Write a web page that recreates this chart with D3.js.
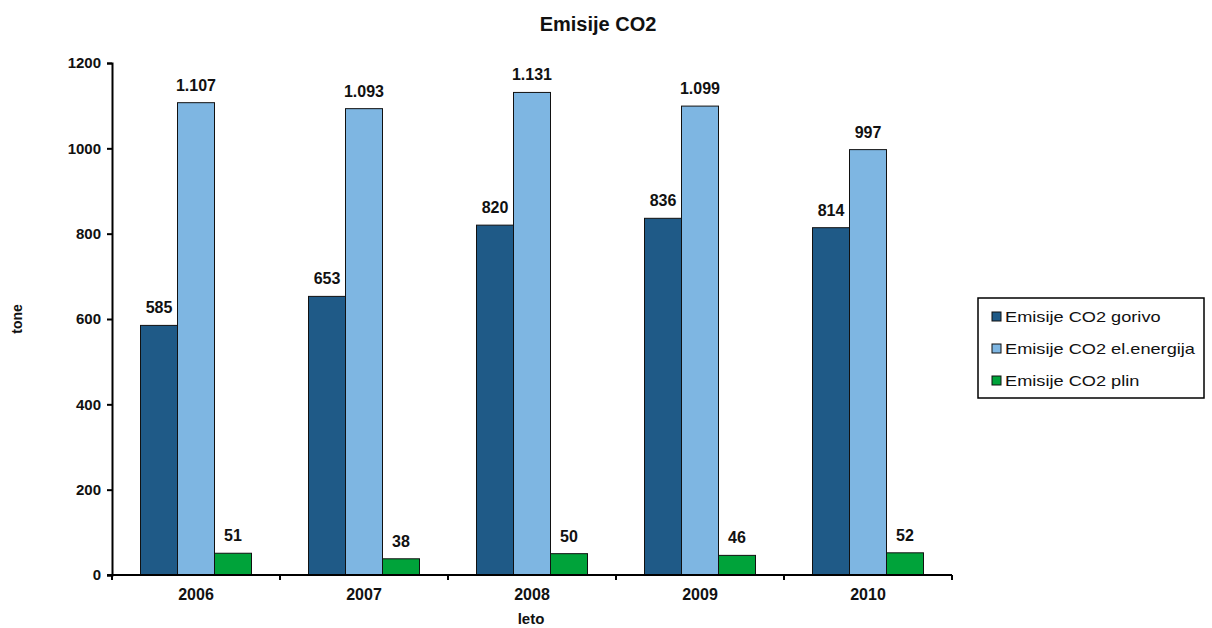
<!DOCTYPE html>
<html>
<head>
<meta charset="utf-8">
<script src="https://cdn.jsdelivr.net/npm/d3@7"></script>
<style>
  html, body { margin: 0; padding: 0; background: #fff; }
  svg { display: block; font-family: "Liberation Sans", Arial, sans-serif; }
</style>
</head>
<body>
<svg id="chart" width="1212" height="628"></svg>
<script>
// Annual CO2 emissions (tonnes) by source
const years = ["2006", "2007", "2008", "2009", "2010"];
const seriesNames = ["Emisije CO2 gorivo", "Emisije CO2 el.energija", "Emisije CO2 plin"];
const gorivo = [585, 653, 820, 836, 814];
const elEnergija = [1107, 1093, 1131, 1099, 997];
const plin = [51, 38, 50, 46, 52];
const yTicks = [0, 200, 400, 600, 800, 1000, 1200];
const colors = ["#1f5a87", "#7eb6e2", "#00a33a"];

const seriesValues = [gorivo, elEnergija, plin];

const svg = d3.select("#chart");
const left = 112, right = 952;
const y0 = 575, y1 = 63;

const x = d3.scaleBand().domain(years).range([left, right]).padding(0);
// three adjacent bars centred in each category
const xInner = d3.scaleBand().domain(d3.range(seriesNames.length))
  .range([28.5, x.bandwidth() - 28.5]).padding(0);
const y = d3.scaleLinear().domain([0, 1200]).range([y0, y1]);

const fmt = d3.formatLocale({ decimal: ",", thousands: ".", grouping: [3], currency: ["", "€"] }).format(",d");

// title
svg.append("text").attr("x", 598).attr("y", 31).attr("text-anchor", "middle")
  .attr("font-size", 20).attr("font-weight", "bold").attr("fill", "#111").text("Emisije CO2");

// bars
const groups = svg.append("g").selectAll("g").data(years).join("g")
  .attr("transform", d => `translate(${x(d)},0)`);

const cells = (d, i) => seriesValues.map((s, k) => ({ k, v: s[i] }));

groups.selectAll("rect").data(cells)
  .join("rect")
  .attr("x", d => xInner(d.k))
  .attr("y", d => y(d.v))
  .attr("width", xInner.bandwidth())
  .attr("height", d => y0 - y(d.v))
  .attr("fill", d => colors[d.k])
  .attr("stroke", "#111")
  .attr("stroke-width", 1);

groups.selectAll("text.val").data(cells)
  .join("text")
  .attr("class", "val")
  .attr("x", d => xInner(d.k) + xInner.bandwidth() / 2)
  .attr("y", d => y(d.v) - 12)
  .attr("text-anchor", "middle")
  .attr("font-size", 16).attr("font-weight", "bold").attr("fill", "#111")
  .text(d => fmt(d.v));

// y axis
const yAxis = d3.axisLeft(y).tickValues(yTicks).tickSize(5).tickPadding(6).tickFormat(d3.format("d"));
const gy = svg.append("g").attr("transform", `translate(${left},0)`).call(yAxis);
gy.select(".domain").attr("stroke", "#000").attr("stroke-width", 2);
gy.selectAll(".tick line").attr("stroke", "#000").attr("stroke-width", 2);
gy.selectAll(".tick text").attr("font-size", 15).attr("font-weight", "bold").attr("fill", "#111")
  .attr("font-family", "Liberation Sans, Arial, sans-serif");

// x axis with ticks on category boundaries
const gx = svg.append("g").attr("transform", `translate(0,${y0})`);
gx.append("line").attr("x1", left - 5).attr("x2", right)
  .attr("stroke", "#000").attr("stroke-width", 2);
const bounds = years.map(d => x(d)).concat([right]);
gx.selectAll("line.tk").data(bounds).join("line").attr("class", "tk")
  .attr("x1", d => d).attr("x2", d => d).attr("y1", 0).attr("y2", 5)
  .attr("stroke", "#000").attr("stroke-width", 2);
gx.selectAll("text").data(years).join("text")
  .attr("x", d => x(d) + x.bandwidth() / 2).attr("y", 25)
  .attr("text-anchor", "middle").attr("font-size", 16).attr("font-weight", "bold").attr("fill", "#111")
  .text(d => d);

// axis titles
svg.append("text").attr("transform", "translate(22,319) rotate(-90)").attr("text-anchor", "middle")
  .attr("font-size", 14).attr("font-weight", "bold").attr("fill", "#111").text("tone");
svg.append("text").attr("x", 531).attr("y", 624).attr("text-anchor", "middle")
  .attr("font-size", 15).attr("font-weight", "bold").attr("fill", "#111").text("leto");

// legend
const lg = svg.append("g").attr("transform", "translate(978,298)");
lg.append("rect").attr("width", 226).attr("height", 100).attr("fill", "#fff")
  .attr("stroke", "#000").attr("stroke-width", 1.5);
const items = lg.selectAll("g").data(seriesNames).join("g")
  .attr("transform", (d, i) => `translate(14,${19 + i * 32})`);
items.append("rect").attr("x", 0).attr("y", -5).attr("width", 9).attr("height", 9)
  .attr("fill", (d, i) => colors[i]).attr("stroke", "#111").attr("stroke-width", 1);
items.append("text").attr("transform", "translate(13,5) scale(1.3,1)")
  .attr("font-size", 14).attr("fill", "#111")
  .text(d => d);
</script>
</body>
</html>
